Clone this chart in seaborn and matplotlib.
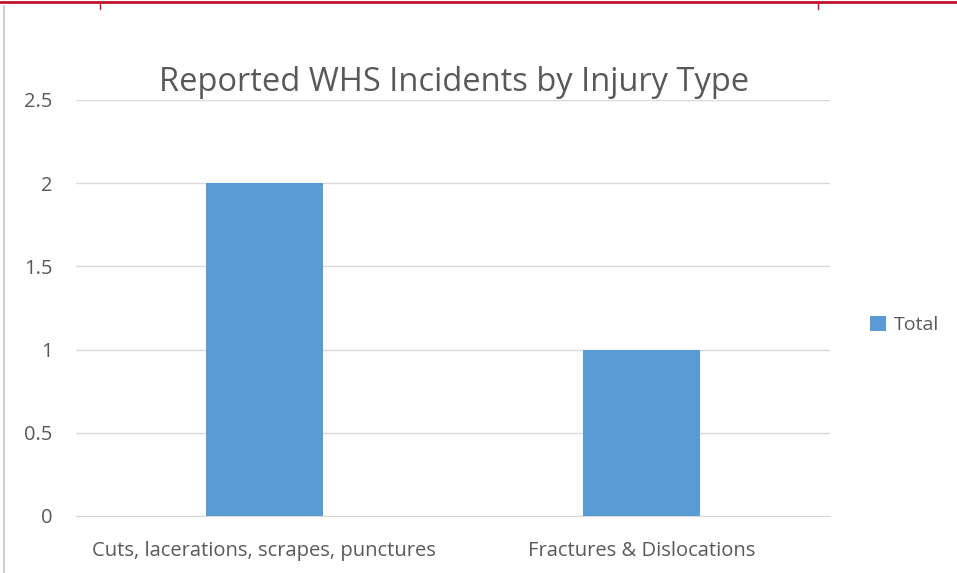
import matplotlib
matplotlib.use("Agg")
import matplotlib.pyplot as plt
import seaborn as sns
import pandas as pd
from matplotlib.lines import Line2D
from matplotlib.patches import Patch

# Data
categories = ["Cuts, lacerations, scrapes, punctures", "Fractures & Dislocations"]
totals = [2, 1]
y_ticks = [0, 0.5, 1, 1.5, 2, 2.5]
y_labels = ["0", "0.5", "1", "1.5", "2", "2.5"]

df = pd.DataFrame({"Injury": categories, "Total": totals})

sns.set_style("white")
plt.rcParams["font.family"] = ["Open Sans", "DejaVu Sans"]

fig = plt.figure(figsize=(9.57, 5.73), dpi=100)
ax = fig.add_axes([0.0794, 0.0995, 0.7876, 0.726])

sns.barplot(data=df, x="Injury", y="Total", color="#5b9bd5", width=0.31,
            saturation=1, linewidth=0, ax=ax, zorder=3)

ax.set_ylim(0, 2.5)
ax.set_xlim(-0.5, 1.5)
ax.set_yticks(y_ticks)
ax.set_yticklabels(y_labels)
ax.yaxis.grid(True, color="#d9d9d9", linewidth=1)
ax.set_axisbelow(True)
for s in ["top", "right", "left"]:
    ax.spines[s].set_visible(False)
ax.spines["bottom"].set_color("#d9d9d9")
ax.tick_params(axis="both", length=0, labelsize=14.5, colors="#595959")
ax.tick_params(axis="y", pad=17)
ax.tick_params(axis="x", pad=18)
ax.set_xlabel("")
ax.set_ylabel("")

fig.text(0.474, 0.856, "Reported WHS Incidents by Injury Type", ha="center",
         va="center", fontsize=23.5, color="#595959")

handles = [Patch(facecolor="#5b9bd5", edgecolor="none", label="Total")]
fig.legend(handles=handles, loc="center left", bbox_to_anchor=(0.891, 0.433),
           frameon=False, fontsize=14, handlelength=0.8, handleheight=0.8,
           handletextpad=0.4, labelcolor="#595959")

# Window edge decorations from the screenshot
fig.add_artist(Line2D([0, 1], [0.997, 0.997], color="#c0142b", linewidth=2,
                      transform=fig.transFigure))
for xm in [0.1045, 0.855]:
    fig.add_artist(Line2D([xm, xm], [0.985, 0.997], color="#c0142b", linewidth=1,
                          transform=fig.transFigure))
fig.add_artist(Line2D([0.0045, 0.0045], [0, 0.99], color="#d0d0d0", linewidth=1.5,
                      transform=fig.transFigure))

fig.savefig("out.png", dpi=100)
